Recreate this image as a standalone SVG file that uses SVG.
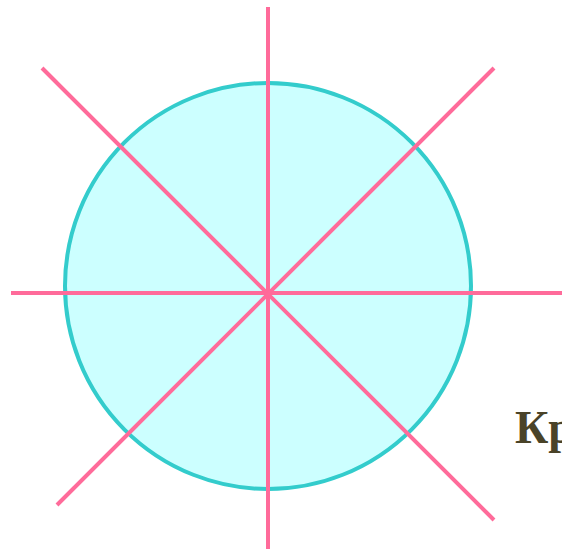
<svg xmlns="http://www.w3.org/2000/svg" width="562" height="549" viewBox="0 0 562 549">
<style>
.ax{stroke:#FF6B9A;stroke-width:4;fill:none}
.lbl{font-family:"Liberation Serif","DejaVu Serif",serif;font-weight:bold;font-size:46px;fill:#4a4328}
</style>
<rect width="562" height="549" fill="#ffffff"/>
<g id="circle">
<circle cx="268" cy="286" r="203" fill="#CCFFFF" stroke="#33CCCC" stroke-width="4"/>
</g>
<g id="connectors">
<line class="ax" x1="268" y1="7" x2="268" y2="549"/>
<line class="ax" x1="11" y1="293" x2="562" y2="293"/>
<line class="ax" x1="42" y1="68" x2="494" y2="520"/>
<line class="ax" x1="494" y1="68" x2="57" y2="505"/>
</g>
<g id="label">
<text class="lbl" x="515" y="443">Кр</text>
</g>
</svg>
